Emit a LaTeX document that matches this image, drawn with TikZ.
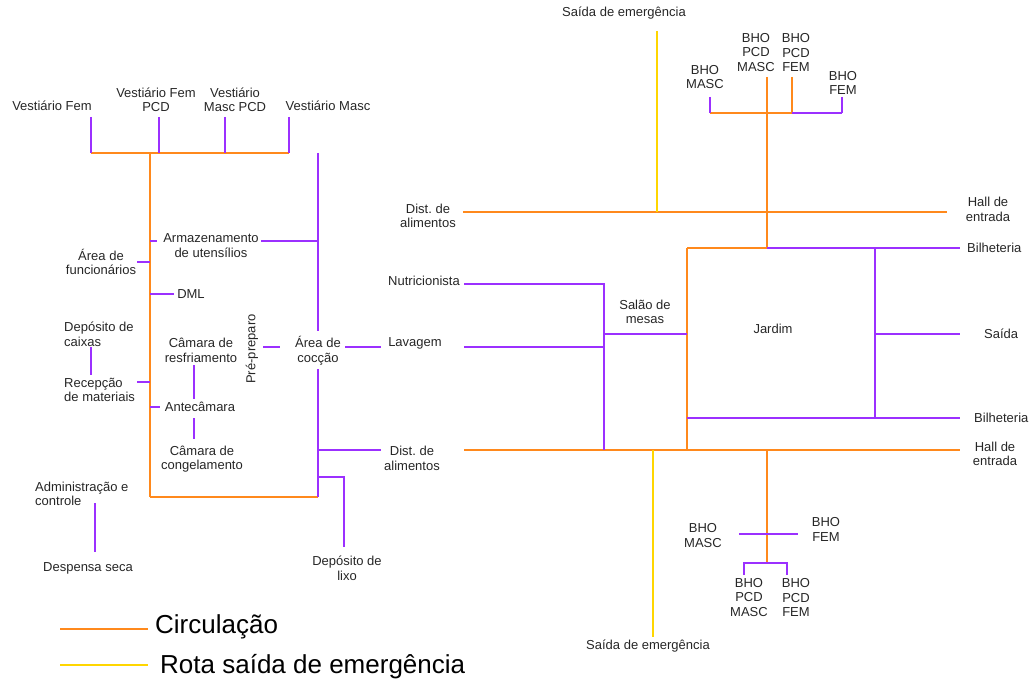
\documentclass[tikz,border=0pt]{standalone}
\usepackage{fontspec}
\setmainfont{Liberation Sans}

\definecolor{circ}{RGB}{255,137,28}
\definecolor{rota}{RGB}{255,214,0}
\definecolor{liga}{RGB}{155,48,255}

\tikzstyle{room}=[inner sep=0pt,
                  align=center,
                  text=black!85,
                  font=\fontsize{13}{14.5}\selectfont]
\tikzstyle{roomw}=[room,
                   anchor=west,
                   align=left]
\tikzstyle{legtext}=[inner sep=0pt,
                     anchor=west,
                     font=\fontsize{26}{30}\selectfont]
\tikzstyle{orange}=[line width=1.6pt, draw=circ]
\tikzstyle{yellow}=[line width=1.6pt, draw=rota]
\tikzstyle{purple}=[line width=1.6pt, draw=liga]

\begin{document}
\begin{tikzpicture}[x=1pt,y=-1pt]
  \useasboundingbox (0,0) rectangle (1035,684);

  % kitchen and service rooms
  \node (vfem)     [room] at (52,106)  {Vestiário Fem};
  \node (vfempcd)  [room] at (156,100) {Vestiário Fem\\PCD};
  \node (vmascpcd) [room] at (235,100) {Vestiário\\Masc PCD};
  \node (vmasc)    [room] at (328,106) {Vestiário Masc};
  \node (armaz)    [room] at (211,245.5) {Armazenamento\\de utensílios};
  \node (func)     [room] at (101,262) {Área de\\funcionários};
  \node (dml)      [room] at (191,294) {DML};
  \node (caixas)   [roomw] at (64,334.5) {Depósito de\\caixas};
  \node (recep)    [roomw] at (64,390) {Recepção\\de materiais};
  \node (resfr)    [room] at (201,350.5) {Câmara de\\resfriamento};
  \node (antec)    [room] at (200,407) {Antecâmara};
  \node (congel)   [room] at (202,459) {Câmara de\\congelamento};
  \node (prep)     [room,rotate=90] at (252,349) {Pré-preparo};
  \node (coccao)   [room] at (318,350.5) {Área de\\cocção};
  \node (lavagem)  [room] at (415,343) {Lavagem};
  \node (distlow)  [room] at (412,458.5) {Dist.\ de\\alimentos};
  \node (admin)    [roomw] at (35,494) {Administração e\\controle};
  \node (despensa) [room] at (88,568) {Despensa seca};
  \node (lixo)     [room] at (347,568.5) {Depósito de\\lixo};
  \node (nutri)    [room] at (424,281) {Nutricionista};

  % public area
  \node (salao)    [room] at (645,312) {Salão de\\mesas};
  \node (distup)   [room] at (428,216) {Dist.\ de\\alimentos};
  \node (saidaup)  [room] at (624,13)  {Saída de emergência};
  \node (bhopmup)  [room] at (756,52.5) {BHO\\PCD\\MASC};
  \node (bhopfup)  [room] at (796,52.5) {BHO\\PCD\\FEM};
  \node (bhomup)   [room] at (705,77)  {BHO\\MASC};
  \node (bhofup)   [room] at (843,83)  {BHO\\FEM};
  \node (hallup)   [room] at (988,209.5) {Hall de\\entrada};
  \node (bilhup)   [roomw] at (967,248) {Bilheteria};
  \node (jardim)   [room] at (773,329) {Jardim};
  \node (saida)    [roomw] at (984,334) {Saída};
  \node (bilhlow)  [roomw] at (974,418) {Bilheteria};
  \node (halllow)  [room] at (995,454) {Hall de\\entrada};
  \node (saidalow) [room] at (648,646) {Saída de emergência};
  \node (bhomlow)  [room] at (703,535.5) {BHO\\MASC};
  \node (bhoflow)  [room] at (826,529.5) {BHO\\FEM};
  \node (bhopmlow) [room] at (749,597.5) {BHO\\PCD\\MASC};
  \node (bhopflow) [room] at (796,597.5) {BHO\\PCD\\FEM};

  % legend
  \node (legcirc)  [legtext] at (155,627) {Circulação};
  \node (legrota)  [legtext] at (160,667) {Rota saída de emergência};

  % junction points of the left block
  \coordinate (vf1) at (91,117);   \coordinate (vf2) at (91,153);
  \coordinate (vp1) at (159,117);  \coordinate (vp2) at (159,153);
  \coordinate (mp1) at (225,117);  \coordinate (mp2) at (225,153);
  \coordinate (vm1) at (289,117);  \coordinate (vm2) at (289,153);
  \coordinate (ct)  at (150,153);  \coordinate (cb)  at (150,497);
  \coordinate (kb)  at (318,497);  \coordinate (kt)  at (318,153);
  \coordinate (ka)  at (318,241);  \coordinate (kc)  at (318,331);
  \coordinate (kd)  at (318,369);  \coordinate (ke)  at (318,450);
  \coordinate (kf)  at (318,477);  \coordinate (lx1) at (344,477);
  \coordinate (lx2) at (344,547);
  \coordinate (a1)  at (150,241);  \coordinate (a2)  at (157,241);
  \coordinate (a3)  at (261,241);
  \coordinate (f1)  at (137,262);  \coordinate (f2)  at (150,262);
  \coordinate (d1)  at (150,294);  \coordinate (d2)  at (174,294);
  \coordinate (r1)  at (137,382);  \coordinate (r2)  at (150,382);
  \coordinate (n1)  at (150,407);  \coordinate (n2)  at (160,407);
  \coordinate (cx1) at (91,347);   \coordinate (cx2) at (91,375);
  \coordinate (rs1) at (194,365);  \coordinate (rs2) at (194,399);
  \coordinate (cg1) at (194,418);  \coordinate (cg2) at (194,439);
  \coordinate (p1)  at (263,347);  \coordinate (p2)  at (280,347);
  \coordinate (l1)  at (345,347);  \coordinate (l2)  at (381,347);
  \coordinate (e1)  at (381,450);
  \coordinate (ad1) at (95,503);   \coordinate (ad2) at (95,552);

  % junction points of the right block
  \coordinate (du1) at (463,212);  \coordinate (du2) at (947,212);
  \coordinate (ys1) at (657,31);   \coordinate (ys2) at (657,212);
  \coordinate (bt)  at (767,77);   \coordinate (bm)  at (767,113);
  \coordinate (bj)  at (767,248);
  \coordinate (bm1) at (710,97);   \coordinate (bm2) at (710,113);
  \coordinate (bf1) at (792,77);   \coordinate (bf2) at (792,113);
  \coordinate (bg1) at (842,97);   \coordinate (bg2) at (842,113);
  \coordinate (jtl) at (687,248);  \coordinate (jtr) at (960,248);
  \coordinate (jbl) at (687,450);  \coordinate (jbr) at (960,450);
  \coordinate (jp1) at (875,248);  \coordinate (jp2) at (875,334);
  \coordinate (jp3) at (875,418);  \coordinate (jp4) at (960,334);
  \coordinate (jl1) at (687,418);  \coordinate (jl2) at (960,418);
  \coordinate (dl1) at (464,450);
  \coordinate (nt1) at (464,284);  \coordinate (nt2) at (604,284);
  \coordinate (nt3) at (604,450);  \coordinate (lv1) at (464,347);
  \coordinate (lv2) at (604,347);  \coordinate (sl1) at (604,334);
  \coordinate (sl2) at (687,334);
  \coordinate (ys3) at (653,450);  \coordinate (ys4) at (653,637);
  \coordinate (bb)  at (767,450);  \coordinate (bc)  at (767,534);
  \coordinate (bd)  at (767,563);
  \coordinate (bh1) at (739,534);  \coordinate (bh2) at (798,534);
  \coordinate (bp1) at (744,575);  \coordinate (bp2) at (744,563);
  \coordinate (bp3) at (787,563);  \coordinate (bp4) at (787,575);

  \coordinate (lg1) at (60,629);   \coordinate (lg2) at (148,629);
  \coordinate (lg3) at (60,665);   \coordinate (lg4) at (148,665);

  % circulation
  \path[orange]
        (vf2) edge (vm2)
        (ct) edge (cb)
        (cb) edge (kb)
        (du1) edge (du2)
        (bt) edge (bj)
        (bm2) edge (bf2)
        (bf1) edge (bf2)
        (jtl) edge (bj)
        (jtl) edge (jbl)
        (dl1) edge (jbr)
        (bb) edge (bd)
        (lg1) edge (lg2)
;

  % emergency route
  \path[yellow]
        (ys1) edge (ys2)
        (ys3) edge (ys4)
        (lg3) edge (lg4)
;

  % links between rooms
  \path[purple]
        (vf1) edge (vf2)
        (vp1) edge (vp2)
        (mp1) edge (mp2)
        (vm1) edge (vm2)
        (kt) edge (kc)
        (kd) edge (kb)
        (a1) edge (a2)
        (a3) edge (ka)
        (f1) edge (f2)
        (d1) edge (d2)
        (r1) edge (r2)
        (n1) edge (n2)
        (cx1) edge (cx2)
        (rs1) edge (rs2)
        (cg1) edge (cg2)
        (p1) edge (p2)
        (l1) edge (l2)
        (ke) edge (e1)
        (ad1) edge (ad2)
        (bm1) edge (bm2)
        (bf2) edge (bg2)
        (bg1) edge (bg2)
        (bj) edge (jtr)
        (jp1) edge (jp3)
        (jp2) edge (jp4)
        (jl1) edge (jl2)
        (lv1) edge (lv2)
        (sl1) edge (sl2)
        (bh1) edge (bh2)
;
  \draw[purple] (kf) -- (lx1) -- (lx2);
  \draw[purple] (nt1) -- (nt2) -- (nt3);
  \draw[purple] (bp1) -- (bp2) -- (bp3) -- (bp4);

\end{tikzpicture}
\end{document}
